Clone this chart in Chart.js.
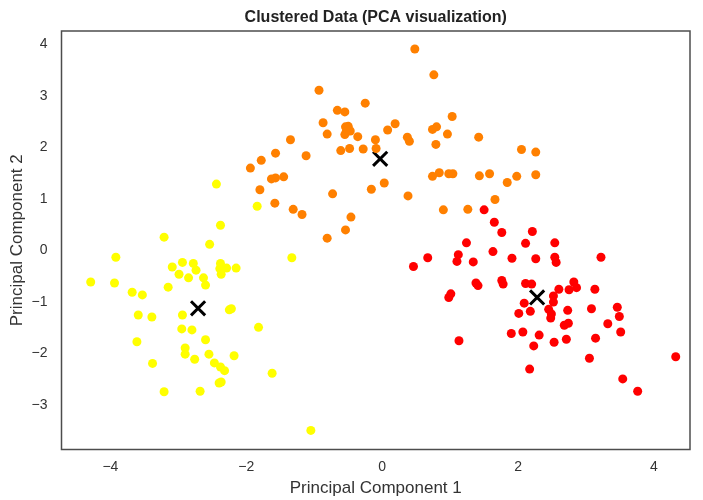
<!DOCTYPE html>
<html>
<head>
<meta charset="utf-8">
<script src="https://cdn.jsdelivr.net/npm/chart.js@4.4.1/dist/chart.umd.min.js"></script>
<style>
  html, body { margin: 0; padding: 0; background: #fff; }
  #wrap { width: 703px; height: 500px; }
</style>
</head>
<body>
<div id="wrap"><canvas id="grafico"></canvas></div>
<script>
// pontos de cada cluster, [PC1, PC2]
const cluster0 = [
  [1.50, 0.79], [1.65, 0.55], [1.76, 0.35], [2.21, 0.37], [2.11, 0.14], [2.54, 0.15],
  [1.24, 0.15], [0.46, -0.31], [0.67, -0.14], [1.12, -0.08], [1.10, -0.21], [1.34, -0.22],
  [1.38, -0.63], [1.41, -0.68], [1.01, -0.84], [0.98, -0.91], [1.13, -1.75], [1.63, -0.02],
  [1.91, -0.15], [2.26, -0.16], [2.54, -0.13], [2.56, -0.23], [3.22, -0.13], [1.76, -0.58],
  [1.78, -0.65], [2.11, -0.64], [2.20, -0.65], [2.09, -1.02], [2.01, -1.22], [2.18, -1.18],
  [2.52, -0.88], [2.52, -1.00], [2.60, -0.75], [2.75, -0.76], [2.82, -0.61], [2.86, -0.72],
  [3.13, -0.75], [2.45, -1.14], [2.49, -1.23], [2.48, -1.31], [2.73, -1.16], [3.08, -1.13],
  [3.46, -1.10], [3.49, -1.28], [3.32, -1.42], [2.68, -1.45], [2.74, -1.41], [3.51, -1.58],
  [1.90, -1.61], [2.07, -1.58], [2.31, -1.64], [2.71, -1.72], [2.53, -1.78], [3.14, -1.70],
  [2.23, -1.85], [3.05, -2.09], [4.32, -2.06], [2.17, -2.30], [3.54, -2.49], [3.76, -2.73]
];
const cluster1 = [
  [-1.94, 1.60], [-1.78, 1.75], [-1.57, 1.89], [-1.63, 1.39], [-1.57, 1.41], [-1.45, 1.43],
  [-1.80, 1.18], [-1.58, 0.92], [0.48, 3.91], [0.76, 3.41], [-0.93, 3.11], [-0.66, 2.72],
  [-0.55, 2.69], [-0.25, 2.86], [-0.87, 2.48], [-0.81, 2.26], [-0.54, 2.40], [-0.50, 2.41],
  [-0.53, 2.30], [-0.47, 2.32], [-0.55, 2.25], [-0.36, 2.21], [0.08, 2.34], [0.19, 2.46],
  [-0.10, 2.15], [0.37, 2.20], [0.40, 2.12], [0.74, 2.35], [0.80, 2.40], [1.03, 2.60],
  [0.96, 2.26], [0.79, 2.06], [1.42, 2.20], [-1.35, 2.15], [-1.12, 1.84], [-0.61, 1.94],
  [-0.48, 1.98], [-0.28, 1.97], [-0.09, 1.98], [0.74, 1.44], [0.84, 1.51], [0.98, 1.49],
  [1.04, 1.49], [1.43, 1.45], [0.03, 1.31], [-0.16, 1.19], [-0.73, 1.10], [0.38, 1.06],
  [-1.31, 0.80], [-1.18, 0.70], [0.90, 0.79], [1.26, 0.80], [-0.46, 0.65], [-0.54, 0.40],
  [-0.81, 0.24], [2.05, 1.96], [2.26, 1.91], [1.58, 1.49], [1.84, 1.32], [1.98, 1.44],
  [2.26, 1.47], [1.66, 0.99]
];
const cluster2 = [
  [-2.44, 1.29], [-1.84, 0.86], [-2.38, 0.49], [-3.21, 0.26], [-2.54, 0.12], [-3.92, -0.13],
  [-3.09, -0.32], [-2.94, -0.23], [-2.78, -0.25], [-2.74, -0.38], [-2.99, -0.46], [-2.85, -0.53],
  [-2.38, -0.25], [-2.39, -0.35], [-2.29, -0.34], [-2.15, -0.34], [-2.37, -0.46], [-2.63, -0.53],
  [-2.60, -0.67], [-4.29, -0.61], [-3.94, -0.63], [-3.68, -0.81], [-3.53, -0.86], [-3.15, -0.71],
  [-3.59, -1.25], [-3.39, -1.29], [-2.94, -1.25], [-2.25, -1.15], [-2.22, -1.13], [-1.82, -1.49],
  [-2.95, -1.52], [-2.80, -1.54], [-3.61, -1.77], [-2.60, -1.73], [-2.90, -1.89], [-2.90, -2.01],
  [-2.76, -2.11], [-2.55, -2.01], [-2.18, -2.04], [-2.47, -2.18], [-2.38, -2.26], [-2.32, -2.33],
  [-3.38, -2.19], [-1.62, -2.38], [-2.40, -2.57], [-2.37, -2.55], [-3.21, -2.74], [-2.68, -2.73],
  [-1.33, -0.14], [-1.05, -3.49]
];
// centros dos clusters
const centroides = [[2.28, -0.91], [-0.03, 1.78], [-2.71, -1.12]];

const coresCluster = ['#ff0000', '#ff8000', '#ffff00'];
const ticksX = [-4, -2, 0, 2, 4];
const ticksY = [-3, -2, -1, 0, 1, 2, 3, 4];
const limX = [-4.72, 4.53];
const limY = [-3.86, 4.26];

const paraPontos = arr => arr.map(p => ({ x: p[0], y: p[1] }));
// sinal de menos como no matplotlib
const fmt = v => (v < 0 ? '\u2212' + Math.abs(v) : String(v));

const fonte = "'Liberation Sans', Arial, sans-serif";
const corTexto = '#333';

// moldura nos quatro lados da área do gráfico
const moldura = {
  id: 'moldura',
  afterDraw(chart) {
    const { ctx, chartArea: a } = chart;
    ctx.save();
    ctx.strokeStyle = '#4d4d4d';
    ctx.lineWidth = 1.5;
    ctx.strokeRect(a.left, a.top, a.right - a.left, a.bottom - a.top);
    ctx.restore();
  }
};

const dsCluster = (dados, i) => ({
  data: paraPontos(dados),
  backgroundColor: coresCluster[i],
  borderWidth: 0,
  pointRadius: 4.5,
  pointHoverRadius: 4.5
});

new Chart(document.getElementById('grafico'), {
  type: 'scatter',
  data: {
    datasets: [
      dsCluster(cluster0, 0),
      dsCluster(cluster1, 1),
      dsCluster(cluster2, 2),
      {
        data: paraPontos(centroides),
        pointStyle: 'crossRot',
        pointRadius: 10,
        pointHoverRadius: 10,
        borderColor: '#000',
        backgroundColor: '#000',
        borderWidth: 3
      }
    ]
  },
  options: {
    responsive: true,
    maintainAspectRatio: false,
    animation: false,
    layout: { padding: { left: 0, right: 11, top: 0, bottom: 0 } },
    plugins: {
      legend: { display: false },
      tooltip: { enabled: false }
    },
    scales: {
      x: {
        type: 'linear',
        min: limX[0],
        max: limX[1],
        grid: { display: false, drawTicks: false },
        border: { display: false },
        afterBuildTicks: s => { s.ticks = ticksX.map(v => ({ value: v })); },
        afterFit: s => { s.height = 50.5; },
        ticks: { color: corTexto, padding: 9, font: { family: fonte, size: 14 }, callback: fmt, maxRotation: 0 },
        title: {
          display: true,
          text: 'Principal Component 1',
          color: corTexto,
          font: { family: fonte, size: 17, lineHeight: 1.2 },
          padding: { top: 0, bottom: 1 }
        }
      },
      // eixo de cima só para o título, centrado na área do gráfico
      topo: {
        type: 'linear',
        position: 'top',
        axis: 'x',
        min: limX[0],
        max: limX[1],
        grid: { display: false, drawTicks: false },
        border: { display: false },
        ticks: { display: false },
        afterFit: s => { s.height = 31; },
        title: {
          display: true,
          text: 'Clustered Data (PCA visualization)',
          color: '#222',
          font: { family: fonte, size: 16, weight: 'bold', lineHeight: 1.2 },
          padding: { top: 8, bottom: 0 }
        }
      },
      y: {
        type: 'linear',
        min: limY[0],
        max: limY[1],
        grid: { display: false, drawTicks: false },
        border: { display: false },
        afterBuildTicks: s => { s.ticks = ticksY.map(v => ({ value: v })); },
        afterFit: s => { s.width = 61.5; },
        ticks: { color: corTexto, padding: 14, font: { family: fonte, size: 14 }, callback: fmt },
        title: {
          display: true,
          text: 'Principal Component 2',
          color: corTexto,
          font: { family: fonte, size: 17, lineHeight: 1.2 },
          padding: { top: 7, bottom: 0 }
        }
      }
    }
  },
  plugins: [moldura]
});
</script>
</body>
</html>
